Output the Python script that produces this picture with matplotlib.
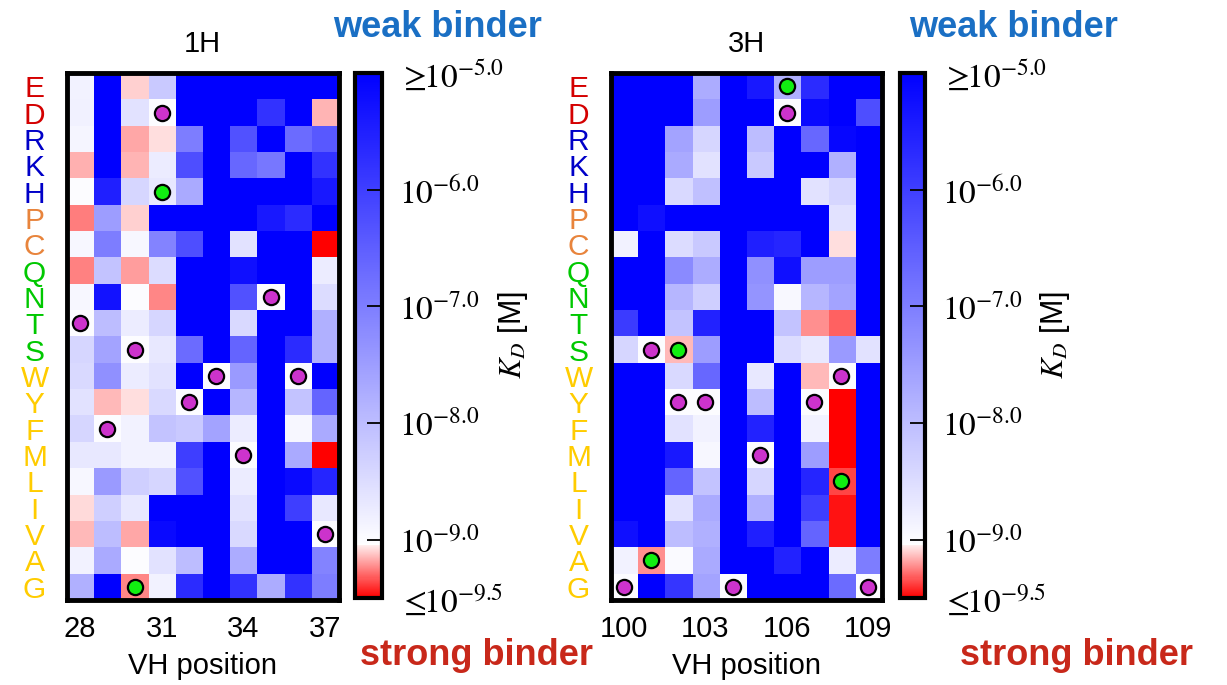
import numpy as np
import matplotlib
matplotlib.use("Agg")
import matplotlib.pyplot as plt
from matplotlib.colors import LinearSegmentedColormap, Normalize
from matplotlib.cm import ScalarMappable

plt.rcParams["font.family"] = ["Liberation Sans", "DejaVu Sans"]
plt.rcParams["mathtext.fontset"] = "stix"

# Mutated residue (rows, top to bottom)
residues = ["E", "D", "R", "K", "H", "P", "C", "Q", "N", "T",
            "S", "W", "Y", "F", "M", "L", "I", "V", "A", "G"]
residue_colors = {
    "E": "#d40000", "D": "#d40000",
    "R": "#0000c8", "K": "#0000c8", "H": "#0000c8",
    "P": "#e8843c", "C": "#e8843c",
    "Q": "#00c800", "N": "#00c800", "T": "#00c800", "S": "#00c800",
}
hydrophobic_color = "#ffcc00"

# ---- CDR H1 scan: log10(KD / M), rows = residues, columns = positions 28..37
positions_1h = [28, 29, 30, 31, 32, 33, 34, 35, 36, 37]
logkd_1h = [
    [-8.85, -5.0, -9.10, -8.20, -5.0, -5.0, -5.0, -5.0, -5.0, -5.0],   # E
    [-8.84, -5.0, -8.60, -9.00, -5.0, -5.0, -5.0, -5.8, -5.0, -9.15],  # D
    [-8.90, -5.0, -9.18, -9.07, -7.0, -5.0, -6.3, -5.0, -6.7, -6.4],   # R
    [-9.16, -5.0, -9.15, -8.76, -6.25, -5.0, -6.65, -6.9, -5.0, -5.8], # K
    [-9.00, -5.5, -8.40, -8.70, -7.7, -5.0, -5.0, -5.0, -5.0, -5.4],   # H
    [-9.26, -7.5, -9.10, -5.0, -5.0, -5.0, -5.0, -5.4, -5.7, -5.0],    # P
    [-8.92, -7.0, -8.92, -7.1, -6.25, -5.0, -8.6, -5.0, -5.0, -9.5],   # C
    [-9.25, -8.1, -9.20, -8.5, -5.0, -5.0, -5.25, -5.0, -5.0, -8.75],  # Q
    [-8.92, -5.3, -9.00, -9.24, -5.0, -5.0, -6.3, -9.0, -5.0, -8.5],   # N
    [-9.00, -8.0, -8.76, -8.4, -5.0, -5.0, -8.45, -5.0, -5.0, -7.8],   # T
    [-8.40, -7.6, -9.00, -8.7, -6.7, -5.0, -6.6, -5.0, -5.7, -7.8],    # S
    [-8.45, -7.3, -8.76, -8.6, -5.0, -9.0, -7.45, -5.0, -9.0, -5.0],   # W
    [-8.60, -9.14, -9.07, -8.45, -9.0, -5.0, -7.9, -5.0, -8.1, -6.6],  # Y
    [-8.40, -9.0, -8.85, -8.1, -8.2, -7.6, -8.76, -5.0, -8.92, -7.7],  # F
    [-8.70, -8.7, -8.85, -8.85, -6.0, -5.0, -9.0, -5.0, -7.7, -9.5],   # M
    [-8.92, -7.45, -8.3, -8.4, -6.3, -5.0, -8.76, -5.0, -5.15, -5.6],  # L
    [-9.08, -8.3, -8.7, -5.0, -5.0, -5.0, -8.6, -5.0, -6.0, -8.7],     # I
    [-9.14, -8.0, -9.18, -5.15, -5.0, -5.0, -8.45, -5.0, -5.0, -9.0],  # V
    [-8.85, -7.7, -9.0, -8.6, -8.0, -5.0, -7.75, -5.0, -5.0, -7.1],    # A
    [-7.80, -5.0, -9.24, -8.85, -5.7, -5.0, -5.8, -7.75, -5.8, -7.0],  # G
]
wildtype_1h = ["T", "F", "S", "D", "Y", "W", "M", "N", "W", "V"]
highlight_1h = [(30, "G"), (31, "H")]

# ---- CDR H3 scan: positions 100..109
positions_3h = [100, 101, 102, 103, 104, 105, 106, 107, 108, 109]
logkd_3h = [
    [-5.0, -5.0, -5.0, -7.75, -5.0, -5.4, -7.8, -5.7, -5.0, -5.0],     # E
    [-5.0, -5.0, -5.0, -7.5, -5.0, -5.0, -9.0, -5.15, -5.0, -6.25],    # D
    [-5.0, -5.0, -7.6, -8.4, -5.0, -8.0, -5.0, -6.65, -5.1, -5.0],     # R
    [-5.0, -5.0, -7.7, -8.6, -5.0, -8.2, -5.0, -5.0, -7.8, -5.0],      # K
    [-5.0, -5.0, -8.45, -8.05, -5.0, -5.0, -5.0, -8.6, -8.4, -5.0],    # H
    [-5.0, -5.25, -5.0, -5.0, -5.0, -5.0, -5.0, -5.0, -8.6, -5.0],     # P
    [-8.85, -5.0, -8.5, -8.2, -5.0, -5.5, -5.6, -5.0, -9.07, -5.0],    # C
    [-5.0, -5.0, -7.2, -7.75, -5.0, -7.3, -5.25, -7.5, -7.5, -5.0],    # Q
    [-5.0, -5.0, -7.9, -8.3, -5.0, -7.35, -8.95, -7.9, -7.6, -5.0],    # N
    [-5.95, -5.0, -8.1, -5.55, -5.0, -5.0, -8.1, -9.22, -9.31, -5.0],  # T
    [-8.4, -9.0, -9.14, -7.5, -5.0, -5.0, -8.5, -8.7, -7.45, -8.6],    # S
    [-5.0, -5.0, -8.45, -6.65, -5.0, -8.7, -5.0, -9.14, -9.0, -5.0],   # W
    [-5.0, -5.0, -9.0, -9.0, -5.0, -8.0, -5.0, -9.0, -9.5, -5.0],      # Y
    [-5.0, -5.0, -8.6, -8.85, -5.0, -5.55, -5.0, -8.85, -9.5, -5.0],   # F
    [-5.0, -5.0, -5.4, -8.92, -5.0, -9.0, -5.0, -7.5, -9.5, -5.0],     # M
    [-5.0, -5.0, -6.6, -8.1, -5.0, -8.4, -5.0, -5.6, -9.36, -5.0],     # L
    [-5.0, -5.0, -8.6, -7.7, -5.0, -7.8, -5.0, -6.0, -9.46, -5.0],     # I
    [-5.25, -5.0, -8.0, -7.8, -5.0, -5.5, -5.0, -6.6, -9.46, -5.0],    # V
    [-8.85, -9.22, -8.97, -7.7, -5.0, -5.0, -5.55, -5.0, -8.76, -7.0], # A
    [-9.0, -5.0, -5.85, -7.6, -9.0, -5.0, -5.0, -5.0, -6.7, -9.0],     # G
]
wildtype_3h = ["G", "S", "Y", "Y", "G", "M", "D", "Y", "W", "G"]
highlight_3h = [(101, "A"), (102, "S"), (106, "E"), (108, "L")]

# Colour scale for log10 KD
kd_ticks = [-9.5, -9.0, -8.0, -7.0, -6.0, -5.0]
kd_ticklabels = [r"$\leq\!\!10^{-9.5}$", r"$10^{-9.0}$", r"$10^{-8.0}$",
                 r"$10^{-7.0}$", r"$10^{-6.0}$", r"$\geq\!\!10^{-5.0}$"]
vmin, vmax = -9.5, -5.0
brk = (-9.05 - vmin) / (vmax - vmin)
cdict = {
    "red":   [(0.0, 1.0, 1.0), (brk, 1.0, 1.0), (1.0, 0.0, 0.0)],
    "green": [(0.0, 0.0, 0.0), (brk, 0.93, 1.0), (1.0, 0.0, 0.0)],
    "blue":  [(0.0, 0.0, 0.0), (brk, 0.93, 1.0), (1.0, 1.0, 1.0)],
}
kd_cmap = LinearSegmentedColormap("kd", cdict, N=512)
norm = Normalize(vmin=vmin, vmax=vmax)

W, H = 1227, 685
fig = plt.figure(figsize=(W / 100, H / 100), dpi=100)


def px_rect(x0, y0, x1, y1):
    return [x0 / W, 1 - y1 / H, (x1 - x0) / W, (y1 - y0) / H]


def draw_panel(ax, cax, title, positions, values, wildtype, highlights, label_x):
    data = np.array(values)
    ax.imshow(data, cmap=kd_cmap, norm=norm, aspect="auto",
              interpolation="nearest")
    # wild-type residue at each position
    wx = [i for i, r in enumerate(wildtype)]
    wy = [residues.index(r) for r in wildtype]
    ax.scatter(wx, wy, s=120, c="#cc33cc", edgecolors="black",
               linewidths=1.6, zorder=3)
    hx = [positions.index(p) for p, r in highlights]
    hy = [residues.index(r) for p, r in highlights]
    ax.scatter(hx, hy, s=120, c="#11ee11", edgecolors="black",
               linewidths=1.6, zorder=3)

    ax.set_xlim(-0.5, len(positions) - 0.5)
    ax.set_ylim(len(residues) - 0.5, -0.5)
    tick_idx = list(range(0, len(positions), 3))
    ax.set_xticks(tick_idx)
    ax.set_xticklabels([str(positions[i]) for i in tick_idx], fontsize=21)
    ax.set_yticks(range(len(residues)))
    ax.set_yticklabels(residues, fontsize=21.5, ha="center")
    for lbl, r in zip(ax.get_yticklabels(), residues):
        lbl.set_color(residue_colors.get(r, hydrophobic_color))
    ax.tick_params(axis="x", length=0, pad=11)
    ax.tick_params(axis="y", length=0, pad=23)
    ax.set_xlabel("VH position", fontsize=21, labelpad=6)
    ax.set_title(title, fontsize=21, pad=15)
    for sp in ax.spines.values():
        sp.set_linewidth(3.5)

    sm = ScalarMappable(norm=norm, cmap=kd_cmap)
    cb = fig.colorbar(sm, cax=cax)
    cb.set_ticks(kd_ticks)
    cb.set_ticklabels(kd_ticklabels)
    cb.outline.set_linewidth(3)
    cax.tick_params(direction="in", length=11, width=1.3, pad=12,
                    labelsize=24, color="black")
    fig.text(label_x / W, 1 - 335 / H, r"$K_D$ [M]", rotation=90,
             ha="center", va="center", fontsize=22)


ax1 = fig.add_axes(px_rect(66.5, 73, 338.5, 600))
cax1 = fig.add_axes(px_rect(355.3, 73, 382, 598))
ax2 = fig.add_axes(px_rect(610.5, 73, 881.7, 600))
cax2 = fig.add_axes(px_rect(899.5, 73, 925.3, 598))

draw_panel(ax1, cax1, "1H", positions_1h, logkd_1h, wildtype_1h, highlight_1h, 513)
draw_panel(ax2, cax2, "3H", positions_3h, logkd_3h, wildtype_3h, highlight_3h, 1055)

for xc in (438, 1014):
    fig.text(xc / W, 1 - 37 / H, "weak binder", ha="center", va="baseline",
             fontsize=26, fontweight="bold", color="#1a6fc4")
for xc in (476, 1076):
    fig.text(xc / W, 1 - 665 / H, "strong binder", ha="center", va="baseline",
             fontsize=26, fontweight="bold", color="#c8281a")

fig.savefig("out.png", dpi=100)
